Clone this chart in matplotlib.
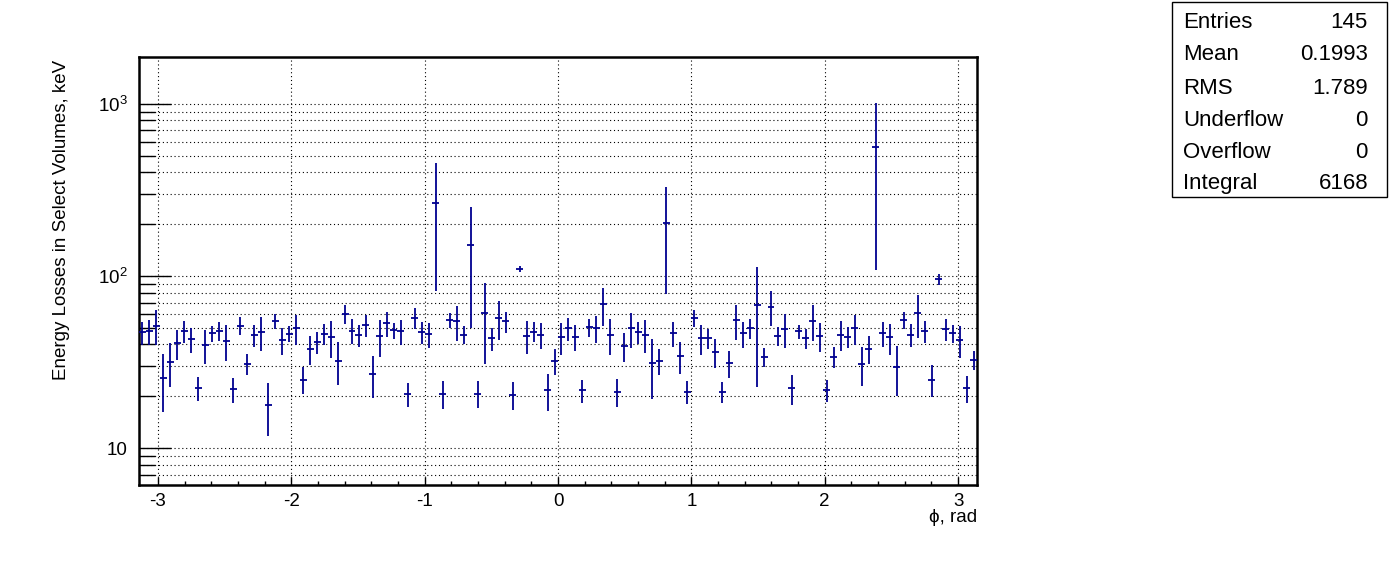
import matplotlib
matplotlib.use("Agg")
import matplotlib.pyplot as plt
from matplotlib.ticker import FixedLocator, LogLocator, NullFormatter, FuncFormatter, MultipleLocator
from matplotlib.patches import Rectangle
import numpy as np

plt.rcParams['font.family'] = ['Liberation Sans', 'DejaVu Sans']
plt.rcParams['axes.unicode_minus'] = False
plt.rcParams['mathtext.fontset'] = 'custom'
plt.rcParams['mathtext.rm'] = 'Liberation Sans'
plt.rcParams['mathtext.it'] = 'Liberation Sans'
plt.rcParams['mathtext.default'] = 'rm'

# histogram: 120 bins over [-pi, pi]
n_bins = 120
energy = [
    47.0, 47.6, 51.4, 25.6, 31.7, 40.5, 48.0, 42.8, 22.2, 39.5,
    46.3, 48.0, 41.8, 21.9, 51.4, 30.8, 45.5, 47.0, 17.9, 54.5,
    42.4, 46.1, 49.6, 25.0, 37.5, 41.3, 46.1, 43.9, 32.2, 60.0,
    48.0, 45.5, 52.0, 27.0, 44.8, 53.0, 48.2, 47.6, 20.7, 57.2,
    47.0, 45.7, 266.0, 20.7, 55.2, 54.5, 45.5, 151.0, 20.7, 60.8,
    43.3, 56.7, 54.5, 20.4, 109.4, 44.8, 47.4, 45.5, 21.6, 32.2,
    44.1, 49.6, 44.4, 21.6, 50.2, 49.6, 68.4, 45.5, 21.3, 39.1,
    49.6, 47.0, 45.5, 31.2, 32.2, 203.0, 46.3, 34.2, 21.3, 56.7,
    43.3, 43.3, 36.0, 21.3, 31.2, 55.2, 46.3, 49.6, 67.5, 34.0,
    66.3, 44.8, 48.9, 22.2, 47.6, 43.3, 55.0, 44.8, 21.6, 34.0,
    45.5, 44.4, 49.6, 30.8, 37.8, 558.0, 46.3, 43.9, 29.5, 55.2,
    45.5, 60.8, 47.6, 25.0, 95.6, 48.9, 46.3, 42.4, 22.2, 32.5,
]
errors = [
    7.2, 8.0, 11.6, 9.5, 9.0, 8.0, 7.0, 7.0, 3.5, 8.8,
    5.0, 6.3, 9.8, 3.7, 6.0, 4.4, 6.6, 10.6, 6.1, 5.5,
    7.6, 5.0, 10.0, 4.4, 7.3, 6.0, 6.5, 10.5, 9.0, 7.5,
    8.0, 6.6, 7.6, 7.4, 10.8, 9.1, 5.0, 8.0, 3.3, 8.0,
    7.0, 7.8, 184.0, 3.8, 5.6, 12.4, 5.5, 101.0, 3.7, 30.0,
    6.6, 14.4, 7.6, 3.8, 4.5, 9.7, 6.3, 7.7, 5.2, 5.6,
    9.3, 7.7, 7.8, 3.3, 6.0, 8.7, 17.0, 10.6, 4.0, 7.4,
    11.4, 6.7, 10.0, 12.0, 5.6, 125.0, 7.8, 7.2, 3.2, 6.3,
    8.8, 5.8, 7.0, 3.0, 5.6, 12.5, 8.0, 6.7, 45.0, 4.3,
    15.0, 5.5, 11.0, 4.4, 4.6, 5.6, 13.0, 8.8, 3.1, 4.8,
    8.9, 6.3, 10.0, 8.0, 7.2, 450.0, 7.6, 9.0, 9.5, 6.3,
    7.0, 17.0, 7.0, 5.2, 7.5, 7.0, 5.3, 9.0, 4.0, 4.2,
]
stats_names = ["Entries", "Mean", "RMS", "Underflow", "Overflow", "Integral"]
stats_values = ["145", "0.1993", "1.789", "0", "0", "6168"]


def log_label(v, pos):
    if v == 10:
        return "10"
    return r"$10^{%d}$" % int(round(np.log10(v)))


def main():
    edges = np.linspace(-np.pi, np.pi, n_bins + 1)
    centers = 0.5 * (edges[:-1] + edges[1:])
    half = 0.5 * (edges[1] - edges[0])

    fig = plt.figure(figsize=(13.96, 5.72), dpi=100)
    ax = fig.add_axes([139 / 1396, 87 / 572, 838 / 1396, 428 / 572])

    col = '#000090'
    ax.errorbar(centers, energy, yerr=errors, xerr=half, fmt='none',
                ecolor=col, elinewidth=1.3, capsize=0, zorder=3)

    ax.set_yscale('log')
    ax.set_xlim(-np.pi, np.pi)
    ax.set_ylim(6.1, 1870)

    ax.yaxis.set_major_locator(FixedLocator([10, 100, 1000]))
    ax.yaxis.set_major_formatter(FuncFormatter(log_label))
    ax.yaxis.set_minor_locator(LogLocator(base=10, subs=np.arange(2, 10)))
    ax.yaxis.set_minor_formatter(NullFormatter())
    ax.xaxis.set_major_locator(MultipleLocator(1))
    ax.xaxis.set_minor_locator(MultipleLocator(0.2))

    ax.tick_params(axis='y', which='major', direction='in', length=23, width=1.0,
                   labelsize=13.5, pad=8)
    ax.tick_params(axis='y', which='minor', direction='in', length=11.5, width=1.0)
    ax.tick_params(axis='x', which='major', direction='in', length=6, width=1.0,
                   labelsize=13.5, pad=6)
    ax.tick_params(axis='x', which='minor', direction='in', length=3, width=1.0)

    ax.grid(True, which='major', axis='x', color='black', linestyle=(0, (1, 2.5)), linewidth=0.8)
    ax.grid(True, which='both', axis='y', color='black', linestyle=(0, (1, 2.5)), linewidth=0.8)
    ax.set_axisbelow(True)
    for s in ax.spines.values():
        s.set_linewidth(1.8)

    fig.text(61 / 1396, 1 - 60 / 572, "Energy Losses in Select Volumes, keV",
             rotation=90, ha='center', va='top', fontsize=13.5)
    fig.text(977 / 1396, 1 - 517 / 572, "ϕ, rad", ha='right', va='center', fontsize=13.5)

    # stats box
    fig.patches.append(Rectangle((1172 / 1396, 1 - 197 / 572), 215 / 1396, 195 / 572,
                                 transform=fig.transFigure, facecolor='white',
                                 edgecolor='black', linewidth=1.0))
    rows_y = [23, 55, 88, 120, 152, 183]
    for name, val, yy in zip(stats_names, stats_values, rows_y):
        fig.text(1183 / 1396, 1 - yy / 572, name, ha='left', va='center', fontsize=16)
        fig.text(1368 / 1396, 1 - yy / 572, val, ha='right', va='center', fontsize=16)

    fig.savefig("out.png", dpi=100)


if __name__ == "__main__":
    main()
